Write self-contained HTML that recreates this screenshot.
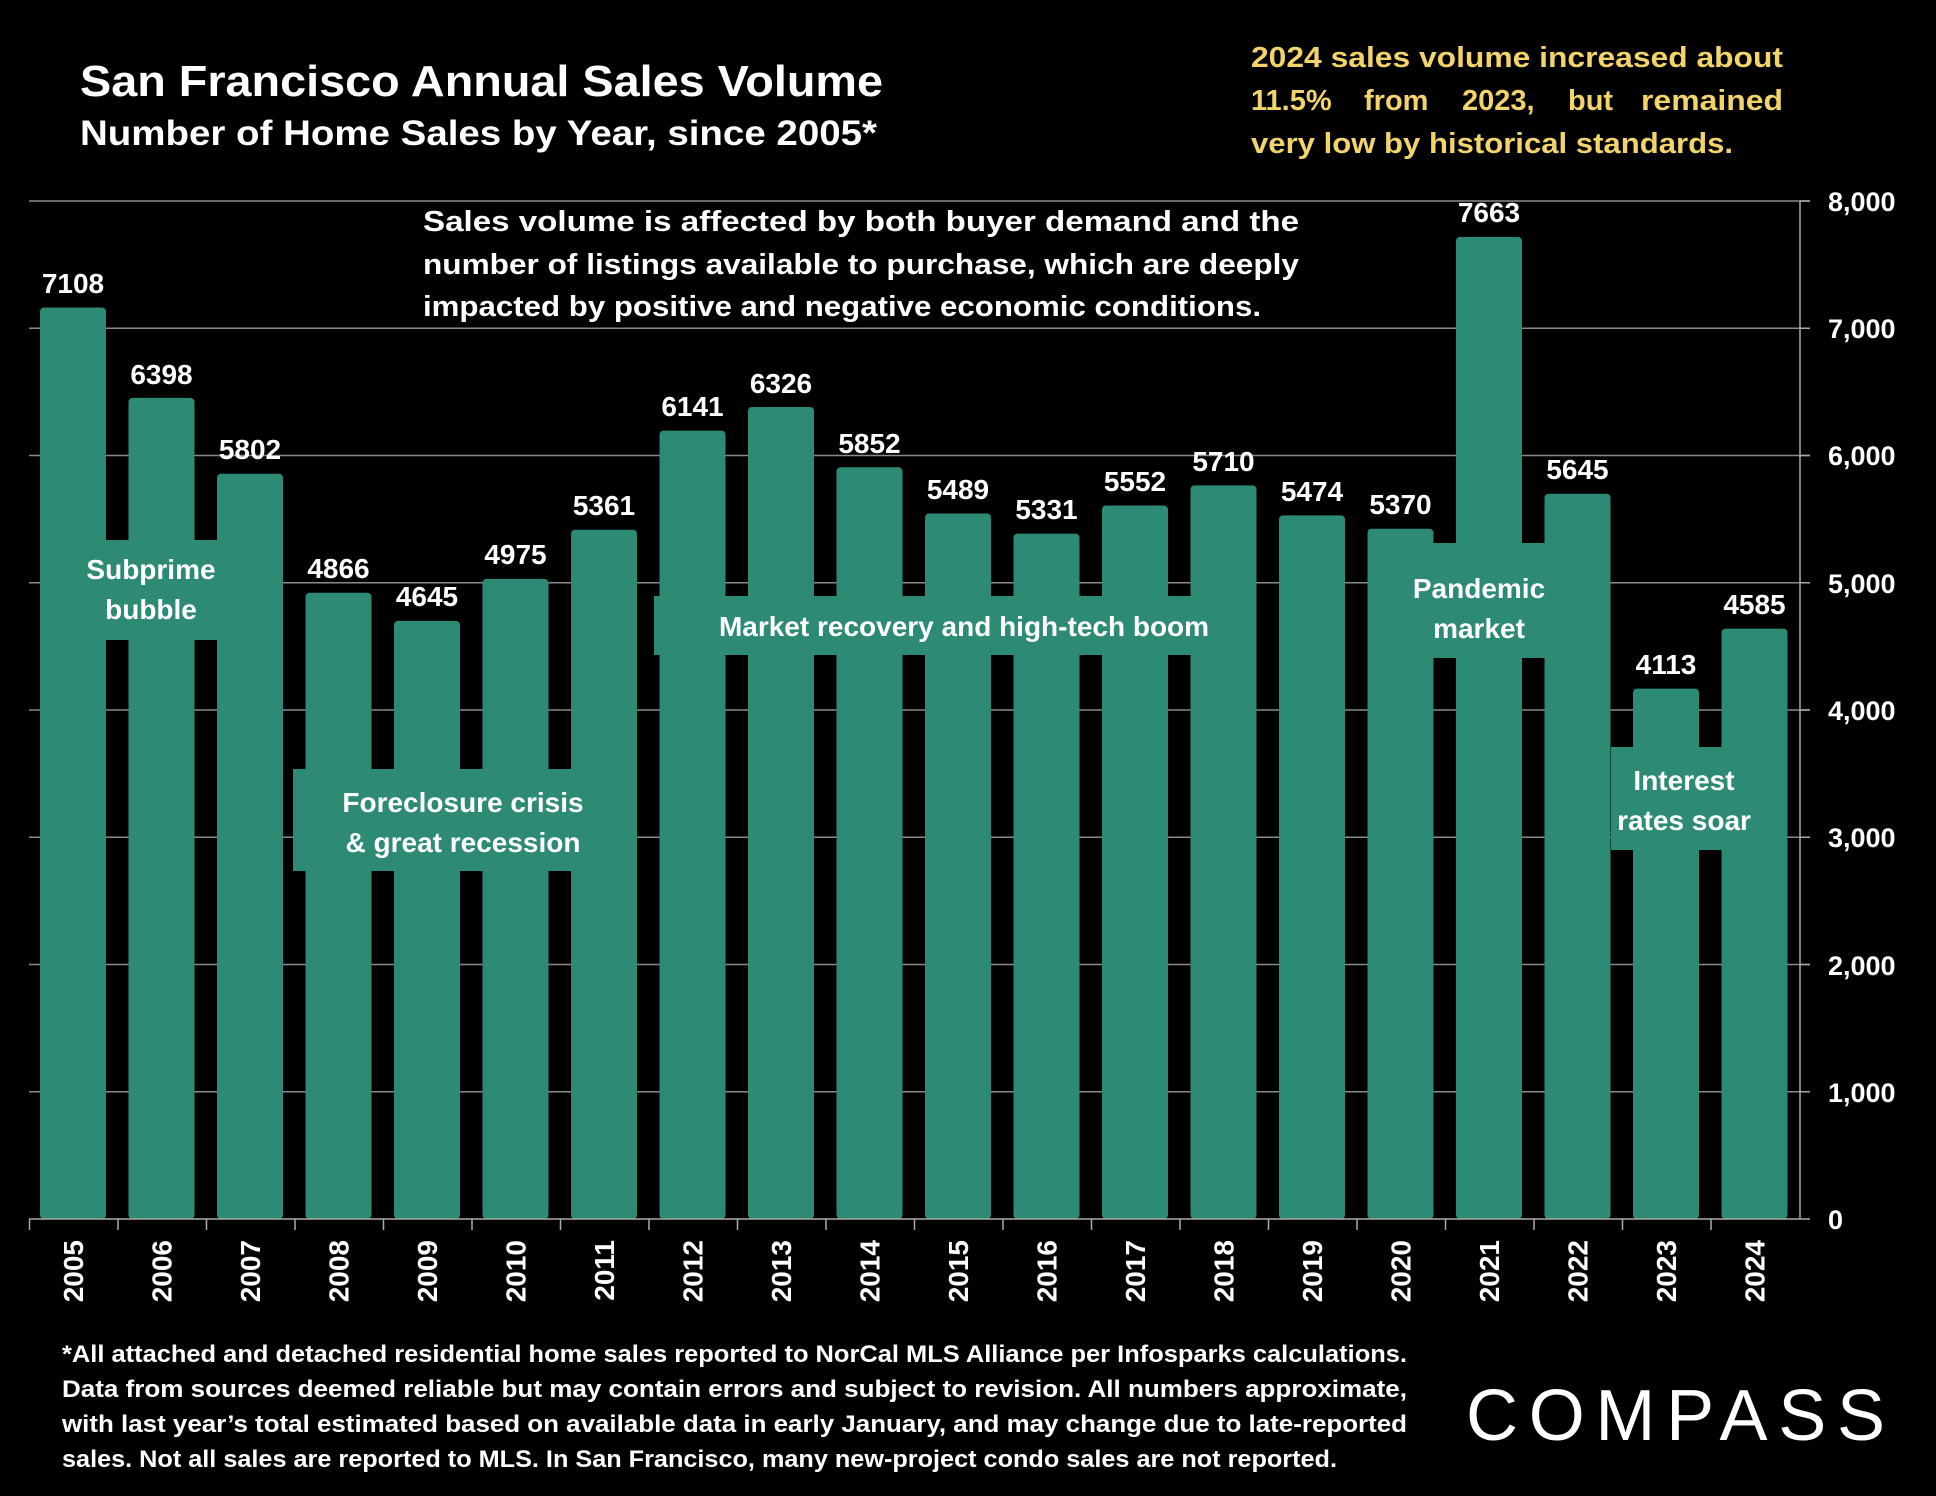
<!DOCTYPE html>
<html><head><meta charset="utf-8"><style>
html,body{margin:0;padding:0;background:#000;}
svg{display:block;}
text{font-family:"Liberation Sans",sans-serif;font-weight:bold;fill:#fff;}
text.y{fill:#f3d46a;}
</style></head><body>
<svg width="1936" height="1496" viewBox="0 0 1936 1496" xmlns="http://www.w3.org/2000/svg">
<rect width="1936" height="1496" fill="#000"/>
<g stroke="#8a8a8a" stroke-width="1.5">
<line x1="29" y1="201" x2="1810" y2="201"/>
<line x1="29" y1="328.25" x2="1810" y2="328.25"/>
<line x1="29" y1="455.5" x2="1810" y2="455.5"/>
<line x1="29" y1="582.75" x2="1810" y2="582.75"/>
<line x1="29" y1="710" x2="1810" y2="710"/>
<line x1="29" y1="837.25" x2="1810" y2="837.25"/>
<line x1="29" y1="964.5" x2="1810" y2="964.5"/>
<line x1="29" y1="1091.75" x2="1810" y2="1091.75"/>
</g>
<g fill="#2d8a74">
<rect x="40" y="307.5" width="66" height="911.5" rx="4"/>
<rect x="128.5" y="397.9" width="66" height="821.1" rx="4"/>
<rect x="217" y="473.7" width="66" height="745.3" rx="4"/>
<rect x="305.5" y="592.8" width="66" height="626.2" rx="4"/>
<rect x="394" y="620.9" width="66" height="598.1" rx="4"/>
<rect x="482.5" y="578.9" width="66" height="640.1" rx="4"/>
<rect x="571" y="529.8" width="66" height="689.2" rx="4"/>
<rect x="659.5" y="430.6" width="66" height="788.4" rx="4"/>
<rect x="748" y="407" width="66" height="812" rx="4"/>
<rect x="836.5" y="467.3" width="66" height="751.7" rx="4"/>
<rect x="925" y="513.5" width="66" height="705.5" rx="4"/>
<rect x="1013.5" y="533.6" width="66" height="685.4" rx="4"/>
<rect x="1102" y="505.5" width="66" height="713.5" rx="4"/>
<rect x="1190.5" y="485.4" width="66" height="733.6" rx="4"/>
<rect x="1279" y="515.4" width="66" height="703.6" rx="4"/>
<rect x="1367.5" y="528.7" width="66" height="690.3" rx="4"/>
<rect x="1456" y="236.9" width="66" height="982.1" rx="4"/>
<rect x="1544.5" y="493.7" width="66" height="725.3" rx="4"/>
<rect x="1633" y="688.6" width="66" height="530.4" rx="4"/>
<rect x="1721.5" y="628.6" width="66" height="590.4" rx="4"/>
</g>
<g stroke="#aaa" stroke-width="1.5">
<line x1="29" y1="1219" x2="1800" y2="1219"/>
<line x1="1800" y1="201" x2="1800" y2="1219"/>
<line x1="1800" y1="201" x2="1810" y2="201"/><line x1="1800" y1="328.25" x2="1810" y2="328.25"/><line x1="1800" y1="455.5" x2="1810" y2="455.5"/><line x1="1800" y1="582.75" x2="1810" y2="582.75"/><line x1="1800" y1="710" x2="1810" y2="710"/><line x1="1800" y1="837.25" x2="1810" y2="837.25"/><line x1="1800" y1="964.5" x2="1810" y2="964.5"/><line x1="1800" y1="1091.75" x2="1810" y2="1091.75"/><line x1="1800" y1="1219" x2="1810" y2="1219"/>
<line x1="29.5" y1="1219" x2="29.5" y2="1230"/><line x1="118" y1="1219" x2="118" y2="1230"/><line x1="206.5" y1="1219" x2="206.5" y2="1230"/><line x1="295" y1="1219" x2="295" y2="1230"/><line x1="383.5" y1="1219" x2="383.5" y2="1230"/><line x1="472" y1="1219" x2="472" y2="1230"/><line x1="560.5" y1="1219" x2="560.5" y2="1230"/><line x1="649" y1="1219" x2="649" y2="1230"/><line x1="737.5" y1="1219" x2="737.5" y2="1230"/><line x1="826" y1="1219" x2="826" y2="1230"/><line x1="914.5" y1="1219" x2="914.5" y2="1230"/><line x1="1003" y1="1219" x2="1003" y2="1230"/><line x1="1091.5" y1="1219" x2="1091.5" y2="1230"/><line x1="1180" y1="1219" x2="1180" y2="1230"/><line x1="1268.5" y1="1219" x2="1268.5" y2="1230"/><line x1="1357" y1="1219" x2="1357" y2="1230"/><line x1="1445.5" y1="1219" x2="1445.5" y2="1230"/><line x1="1534" y1="1219" x2="1534" y2="1230"/><line x1="1622.5" y1="1219" x2="1622.5" y2="1230"/><line x1="1711" y1="1219" x2="1711" y2="1230"/>
</g>
<g font-size="27">
<text x="1828" y="211">8,000</text><text x="1828" y="338">7,000</text><text x="1828" y="465">6,000</text><text x="1828" y="593">5,000</text><text x="1828" y="720">4,000</text><text x="1828" y="847">3,000</text><text x="1828" y="975">2,000</text><text x="1828" y="1102">1,000</text><text x="1828" y="1229">0</text>
</g>
<g font-size="28" text-anchor="middle">
<text x="73" y="293">7108</text><text x="161.5" y="384">6398</text><text x="250" y="459">5802</text><text x="338.5" y="578">4866</text><text x="427" y="606">4645</text><text x="515.5" y="564">4975</text><text x="604" y="515">5361</text><text x="692.5" y="416">6141</text><text x="781" y="393">6326</text><text x="869.5" y="453">5852</text><text x="958" y="499">5489</text><text x="1046.5" y="519">5331</text><text x="1135" y="491">5552</text><text x="1223.5" y="471">5710</text><text x="1312" y="501">5474</text><text x="1400.5" y="514">5370</text><text x="1489" y="222">7663</text><text x="1577.5" y="479">5645</text><text x="1666" y="674">4113</text><text x="1754.5" y="614">4585</text>
</g>
<g font-size="28" text-anchor="end">
<text transform="translate(83,1240) rotate(-90)">2005</text><text transform="translate(171.5,1240) rotate(-90)">2006</text><text transform="translate(260,1240) rotate(-90)">2007</text><text transform="translate(348.5,1240) rotate(-90)">2008</text><text transform="translate(437,1240) rotate(-90)">2009</text><text transform="translate(525.5,1240) rotate(-90)">2010</text><text transform="translate(614,1240) rotate(-90)">2011</text><text transform="translate(702.5,1240) rotate(-90)">2012</text><text transform="translate(791,1240) rotate(-90)">2013</text><text transform="translate(879.5,1240) rotate(-90)">2014</text><text transform="translate(968,1240) rotate(-90)">2015</text><text transform="translate(1056.5,1240) rotate(-90)">2016</text><text transform="translate(1145,1240) rotate(-90)">2017</text><text transform="translate(1233.5,1240) rotate(-90)">2018</text><text transform="translate(1322,1240) rotate(-90)">2019</text><text transform="translate(1410.5,1240) rotate(-90)">2020</text><text transform="translate(1499,1240) rotate(-90)">2021</text><text transform="translate(1587.5,1240) rotate(-90)">2022</text><text transform="translate(1676,1240) rotate(-90)">2023</text><text transform="translate(1764.5,1240) rotate(-90)">2024</text>
</g>
<g fill="#2d8a74">
<rect x="86" y="540" width="134" height="100"/>
<rect x="293" y="769" width="294" height="102"/>
<rect x="654" y="596" width="581" height="59"/>
<rect x="1401" y="543" width="161" height="115"/>
<rect x="1611" y="747" width="148" height="103"/>
</g>
<g font-size="28" text-anchor="middle">
<text x="151" y="579">Subprime</text><text x="151" y="619">bubble</text>
<text x="463" y="812">Foreclosure crisis</text><text x="463" y="852">&amp; great recession</text>
<text x="964" y="636">Market recovery and high-tech boom</text>
<text x="1479" y="598">Pandemic</text><text x="1479" y="638">market</text>
<text x="1684" y="790">Interest</text><text x="1684" y="830">rates soar</text>
</g>
<text x="80" y="96" font-size="44" textLength="803" lengthAdjust="spacingAndGlyphs">San Francisco Annual Sales Volume</text>
<text x="80" y="145" font-size="35" textLength="797" lengthAdjust="spacingAndGlyphs">Number of Home Sales by Year, since 2005*</text>
<text class="y" x="1251" y="67" font-size="29" textLength="532" lengthAdjust="spacingAndGlyphs">2024 sales volume increased about</text>
<text class="y" x="1251" y="110" font-size="29">11.5%</text>
<text class="y" x="1364" y="110" font-size="29">from</text>
<text class="y" x="1462" y="110" font-size="29">2023,</text>
<text class="y" x="1568" y="110" font-size="29">but</text>
<text class="y" x="1641" y="110" font-size="29" textLength="142" lengthAdjust="spacingAndGlyphs">remained</text>
<text class="y" x="1251" y="153" font-size="29" textLength="482" lengthAdjust="spacingAndGlyphs">very low by historical standards.</text>
<g font-size="29">
<text x="423" y="231" textLength="876" lengthAdjust="spacingAndGlyphs">Sales volume is affected by both buyer demand and the</text>
<text x="423" y="274" textLength="876" lengthAdjust="spacingAndGlyphs">number of listings available to purchase, which are deeply</text>
<text x="423" y="316" textLength="838" lengthAdjust="spacingAndGlyphs">impacted by positive and negative economic conditions.</text>
</g>
<g font-size="24">
<text x="62" y="1362" textLength="1345" lengthAdjust="spacingAndGlyphs">*All attached and detached residential home sales reported to NorCal MLS Alliance per Infosparks calculations.</text>
<text x="62" y="1397" textLength="1345" lengthAdjust="spacingAndGlyphs">Data from sources deemed reliable but may contain errors and subject to revision. All numbers approximate,</text>
<text x="62" y="1432" textLength="1345" lengthAdjust="spacingAndGlyphs">with last year’s total estimated based on available data in early January, and may change due to late-reported</text>
<text x="62" y="1467" textLength="1275" lengthAdjust="spacingAndGlyphs">sales. Not all sales are reported to MLS. In San Francisco, many new-project condo sales are not reported.</text>
</g>
<text x="1466" y="1440" font-size="72" style="font-weight:normal" textLength="419" lengthAdjust="spacing">COMPASS</text>
</svg>
</body></html>
